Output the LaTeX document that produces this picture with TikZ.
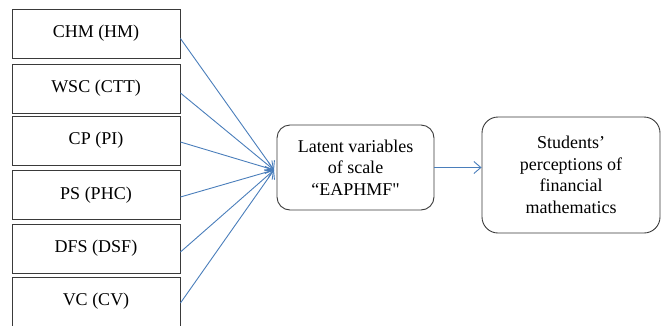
\documentclass[tikz,border=0pt]{standalone}
\usepackage{fontspec}
\setmainfont{Liberation Serif}
\newfontfamily\straightq{Liberation Serif}
\usetikzlibrary{arrows.meta}
\begin{document}
\begin{tikzpicture}[x=1pt, y=-1pt,
  factor/.style = {draw = boxline, line width = 0.9pt, minimum width = 168pt, minimum height = 49pt, inner sep = 0pt, font = \fontsize{18}{21.5}\selectfont},
  roundbox/.style = {draw = boxline, line width = 0.9pt, rounded corners = 13pt, align = center, inner sep = 0pt, font = \fontsize{18}{21.5}\selectfont},
  link/.style = {draw = arrowblue, line width = 0.9pt, -{Straight Barb[length=7pt, width=12pt]}}]
\definecolor{boxline}{HTML}{3A3A3A}
\definecolor{arrowblue}{HTML}{4A7EBB}
\useasboundingbox (0, 0) rectangle (661, 325);
\clip (0, 0) rectangle (661, 325);
\node[factor] (chm) at (96, 33.5) {CHM (HM)};
\node[factor] (wsc) at (96, 88.5) {WSC (CTT)};
\node[factor] (cp) at (96, 140.5) {CP (PI)};
\node[factor] (ps) at (96, 195) {PS (PHC)};
\node[factor] (dfs) at (96, 248.5) {DFS (DSF)};
\node[factor] (vc) at (96, 301.5) {VC (CV)};
\node[roundbox, minimum width = 157pt, minimum height = 85pt] (latent) at (355.5, 167.5) {Latent variables\\of scale\\``EAPHMF{\straightq"}};
\node[roundbox, minimum width = 178pt, minimum height = 116pt, rounded corners = 16pt] (percep) at (571, 175) {Students'\\perceptions of\\financial\\mathematics};
\coordinate (hub) at (274, 170);
% factors into the latent variables
\foreach \f/\dy in {chm/-5, wsc/-4.5, cp/-1.5, ps/-2, dfs/-3.5, vc/-1.5}
  \draw[link] ([yshift=\dy pt]\f.east) -- (hub);
\draw[link] (latent.east) -- (latent.east -| percep.west);
\end{tikzpicture}
\end{document}
